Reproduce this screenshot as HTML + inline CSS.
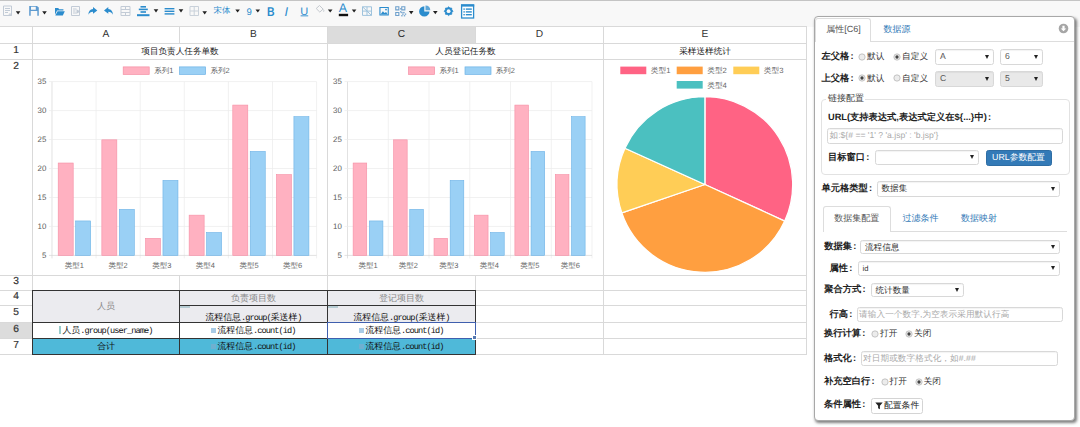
<!DOCTYPE html>
<html><head><meta charset="utf-8"><title>report designer</title>
<style>
html,body{margin:0;padding:0;}
body{width:1080px;height:427px;overflow:hidden;background:#fff;position:relative;font-family:"Liberation Sans",sans-serif;text-rendering:geometricPrecision;}
svg text{text-rendering:geometricPrecision;}
</style></head><body>
<div style="position:absolute;left:0px;top:0px;width:1080px;height:27px;background:#f8f8f8;"></div>
<div style="position:absolute;left:0px;top:0px;width:1080px;height:1px;background:#c4c4c4;"></div>
<div style="position:absolute;left:0px;top:26px;width:807px;height:329px;background:#fff;"></div>
<div style="position:absolute;left:328px;top:27px;width:147px;height:16px;background:#dcdcdc;"></div>
<div style="position:absolute;left:0px;top:323px;width:32px;height:15px;background:#dcdcdc;"></div>
<div style="position:absolute;left:33px;top:291px;width:442px;height:31px;background:#ebebef;"></div>
<div style="position:absolute;left:33px;top:339px;width:442px;height:15px;background:#4fb9d9;"></div>
<div style="position:absolute;left:0px;top:26px;width:807px;height:1px;background:#d9d9d9;"></div>
<div style="position:absolute;left:0px;top:43px;width:807px;height:1px;background:#d9d9d9;"></div>
<div style="position:absolute;left:0px;top:59px;width:807px;height:1px;background:#d9d9d9;"></div>
<div style="position:absolute;left:0px;top:275px;width:807px;height:1px;background:#d9d9d9;"></div>
<div style="position:absolute;left:0px;top:290px;width:807px;height:1px;background:#d9d9d9;"></div>
<div style="position:absolute;left:0px;top:305px;width:807px;height:1px;background:#d9d9d9;"></div>
<div style="position:absolute;left:0px;top:322px;width:807px;height:1px;background:#d9d9d9;"></div>
<div style="position:absolute;left:0px;top:338px;width:807px;height:1px;background:#d9d9d9;"></div>
<div style="position:absolute;left:0px;top:354px;width:807px;height:1px;background:#d9d9d9;"></div>
<div style="position:absolute;left:32px;top:26px;width:1px;height:329px;background:#d9d9d9;"></div>
<div style="position:absolute;left:806px;top:26px;width:1px;height:329px;background:#d9d9d9;"></div>
<div style="position:absolute;left:327px;top:26px;width:1px;height:329px;background:#d9d9d9;"></div>
<div style="position:absolute;left:603px;top:26px;width:1px;height:329px;background:#d9d9d9;"></div>
<div style="position:absolute;left:179px;top:26px;width:1px;height:17px;background:#d9d9d9;"></div>
<div style="position:absolute;left:179px;top:275px;width:1px;height:80px;background:#d9d9d9;"></div>
<div style="position:absolute;left:475px;top:26px;width:1px;height:17px;background:#d9d9d9;"></div>
<div style="position:absolute;left:475px;top:275px;width:1px;height:80px;background:#d9d9d9;"></div>
<div style="position:absolute;left:33px;top:305px;width:146px;height:1px;background:#ebebef;"></div>
<div style="position:absolute;left:32px;top:290px;width:444px;height:1px;background:#333;"></div>
<div style="position:absolute;left:32px;top:322px;width:444px;height:1px;background:#333;"></div>
<div style="position:absolute;left:32px;top:338px;width:444px;height:1px;background:#333;"></div>
<div style="position:absolute;left:32px;top:354px;width:444px;height:1px;background:#333;"></div>
<div style="position:absolute;left:179px;top:305px;width:297px;height:1px;background:#333;"></div>
<div style="position:absolute;left:32px;top:290px;width:1px;height:65px;background:#333;"></div>
<div style="position:absolute;left:179px;top:290px;width:1px;height:65px;background:#333;"></div>
<div style="position:absolute;left:327px;top:290px;width:1px;height:65px;background:#333;"></div>
<div style="position:absolute;left:475px;top:290px;width:1px;height:65px;background:#333;"></div>
<div style="position:absolute;left:327px;top:322px;width:148px;height:16px;border:1px solid #3f5fae;box-sizing:border-box;width:149px;height:17px;"></div>
<div style="position:absolute;left:472px;top:335px;width:5px;height:5px;background:#5579b0;border:1px solid #fff;box-sizing:border-box;"></div>
<div style="position:absolute;left:33px;top:27.3px;width:146px;height:16px;line-height:16px;font-size:10.2px;color:#333;text-align:center;font-weight:normal;font-family:'Liberation Sans', sans-serif;white-space:nowrap;">A</div>
<div style="position:absolute;left:180px;top:27.3px;width:147px;height:16px;line-height:16px;font-size:10.2px;color:#333;text-align:center;font-weight:normal;font-family:'Liberation Sans', sans-serif;white-space:nowrap;">B</div>
<div style="position:absolute;left:328px;top:27.3px;width:147px;height:16px;line-height:16px;font-size:10.2px;color:#333;text-align:center;font-weight:normal;font-family:'Liberation Sans', sans-serif;white-space:nowrap;">C</div>
<div style="position:absolute;left:476px;top:27.3px;width:127px;height:16px;line-height:16px;font-size:10.2px;color:#333;text-align:center;font-weight:normal;font-family:'Liberation Sans', sans-serif;white-space:nowrap;">D</div>
<div style="position:absolute;left:604px;top:27.3px;width:202px;height:16px;line-height:16px;font-size:10.2px;color:#333;text-align:center;font-weight:normal;font-family:'Liberation Sans', sans-serif;white-space:nowrap;">E</div>
<div style="position:absolute;left:0px;top:43.45px;width:32px;height:15px;line-height:15px;font-size:10.2px;color:#333;text-align:center;font-weight:normal;font-family:'Liberation Sans', sans-serif;white-space:nowrap;-webkit-text-stroke:0.2px #333;">1</div>
<div style="position:absolute;left:0px;top:59.45px;width:32px;height:15px;line-height:15px;font-size:10.2px;color:#333;text-align:center;font-weight:normal;font-family:'Liberation Sans', sans-serif;white-space:nowrap;-webkit-text-stroke:0.2px #333;">2</div>
<div style="position:absolute;left:0px;top:275.45px;width:32px;height:14px;line-height:14px;font-size:10.2px;color:#333;text-align:center;font-weight:normal;font-family:'Liberation Sans', sans-serif;white-space:nowrap;-webkit-text-stroke:0.2px #333;">3</div>
<div style="position:absolute;left:0px;top:290.45px;width:32px;height:14px;line-height:14px;font-size:10.2px;color:#333;text-align:center;font-weight:normal;font-family:'Liberation Sans', sans-serif;white-space:nowrap;-webkit-text-stroke:0.2px #333;">4</div>
<div style="position:absolute;left:0px;top:305.45px;width:32px;height:16px;line-height:16px;font-size:10.2px;color:#333;text-align:center;font-weight:normal;font-family:'Liberation Sans', sans-serif;white-space:nowrap;-webkit-text-stroke:0.2px #333;">5</div>
<div style="position:absolute;left:0px;top:322.45px;width:32px;height:15px;line-height:15px;font-size:10.2px;color:#333;text-align:center;font-weight:normal;font-family:'Liberation Sans', sans-serif;white-space:nowrap;-webkit-text-stroke:0.2px #333;">6</div>
<div style="position:absolute;left:0px;top:338.45px;width:32px;height:15px;line-height:15px;font-size:10.2px;color:#333;text-align:center;font-weight:normal;font-family:'Liberation Sans', sans-serif;white-space:nowrap;-webkit-text-stroke:0.2px #333;">7</div>
<div style="position:absolute;left:33px;top:44px;width:294px;height:15px;line-height:15px;font-size:8.6px;color:#222;text-align:center;font-weight:normal;font-family:'Liberation Sans', sans-serif;white-space:nowrap;">项目负责人任务单数</div>
<div style="position:absolute;left:328px;top:44px;width:275px;height:15px;line-height:15px;font-size:8.65px;color:#222;text-align:center;font-weight:normal;font-family:'Liberation Sans', sans-serif;white-space:nowrap;">人员登记任务数</div>
<div style="position:absolute;left:604px;top:44px;width:202px;height:15px;line-height:15px;font-size:8.65px;color:#222;text-align:center;font-weight:normal;font-family:'Liberation Sans', sans-serif;white-space:nowrap;">采样送样统计</div>
<div style="position:absolute;left:33px;top:291px;width:146px;height:31px;line-height:31px;font-size:9px;color:#888;text-align:center;font-weight:normal;font-family:'Liberation Sans', sans-serif;white-space:nowrap;">人员</div>
<div style="position:absolute;left:180px;top:291px;width:147px;height:14px;line-height:14px;font-size:9px;color:#888;text-align:center;font-weight:normal;font-family:'Liberation Sans', sans-serif;white-space:nowrap;">负责项目数</div>
<div style="position:absolute;left:328px;top:291px;width:147px;height:14px;line-height:14px;font-size:9px;color:#888;text-align:center;font-weight:normal;font-family:'Liberation Sans', sans-serif;white-space:nowrap;">登记项目数</div>
<div style="position:absolute;left:180px;top:308.5px;width:147px;height:16.0px;line-height:16.0px;font-size:8.9px;color:#111;text-align:center;font-weight:normal;font-family:'Liberation Sans', sans-serif;white-space:nowrap;">流程信息<span style="font-family:'Liberation Mono', monospace;letter-spacing:-0.9px;font-size:8.6px">.group(</span>采送样<span style="font-family:'Liberation Mono', monospace;letter-spacing:-0.9px;font-size:8.6px">)</span></div>
<div style="position:absolute;left:328px;top:308.5px;width:147px;height:16.0px;line-height:16.0px;font-size:8.9px;color:#111;text-align:center;font-weight:normal;font-family:'Liberation Sans', sans-serif;white-space:nowrap;">流程信息<span style="font-family:'Liberation Mono', monospace;letter-spacing:-0.9px;font-size:8.6px">.group(</span>采送样<span style="font-family:'Liberation Mono', monospace;letter-spacing:-0.9px;font-size:8.6px">)</span></div>
<div style="position:absolute;left:33px;top:323px;width:146px;height:15px;line-height:15px;font-size:8.9px;color:#111;text-align:center;font-weight:normal;font-family:'Liberation Sans', sans-serif;white-space:nowrap;"><span style="display:inline-block;width:2px;height:8px;background:#9cc;vertical-align:-1px;margin-right:1px"></span>人员<span style="font-family:'Liberation Mono', monospace;letter-spacing:-0.9px;font-size:8.6px">.group(user_name)</span></div>
<div style="position:absolute;left:180px;top:323px;width:147px;height:15px;line-height:15px;font-size:8.9px;color:#111;text-align:center;font-weight:normal;font-family:'Liberation Sans', sans-serif;white-space:nowrap;"><span style="display:inline-block;width:5px;height:5px;background:#a9cbe6;vertical-align:0px;margin-right:1px"></span>流程信息<span style="font-family:'Liberation Mono', monospace;letter-spacing:-0.9px;font-size:8.6px">.count(id)</span></div>
<div style="position:absolute;left:328px;top:323px;width:147px;height:15px;line-height:15px;font-size:8.9px;color:#111;text-align:center;font-weight:normal;font-family:'Liberation Sans', sans-serif;white-space:nowrap;"><span style="display:inline-block;width:5px;height:5px;background:#a9cbe6;vertical-align:0px;margin-right:1px"></span>流程信息<span style="font-family:'Liberation Mono', monospace;letter-spacing:-0.9px;font-size:8.6px">.count(id)</span></div>
<div style="position:absolute;left:33px;top:339px;width:146px;height:15px;line-height:15px;font-size:8.9px;color:#111;text-align:center;font-weight:normal;font-family:'Liberation Sans', sans-serif;white-space:nowrap;">合计</div>
<div style="position:absolute;left:180px;top:339px;width:147px;height:15px;line-height:15px;font-size:8.9px;color:#111;text-align:center;font-weight:normal;font-family:'Liberation Sans', sans-serif;white-space:nowrap;"><span style="display:inline-block;width:5px;height:5px;background:#6fb0d0;vertical-align:0px;margin-right:1px"></span>流程信息<span style="font-family:'Liberation Mono', monospace;letter-spacing:-0.9px;font-size:8.6px">.count(id)</span></div>
<div style="position:absolute;left:328px;top:339px;width:147px;height:15px;line-height:15px;font-size:8.9px;color:#111;text-align:center;font-weight:normal;font-family:'Liberation Sans', sans-serif;white-space:nowrap;"><span style="display:inline-block;width:5px;height:5px;background:#6fb0d0;vertical-align:0px;margin-right:1px"></span>流程信息<span style="font-family:'Liberation Mono', monospace;letter-spacing:-0.9px;font-size:8.6px">.count(id)</span></div>
<div style="position:absolute;left:180px;top:306px;width:10px;height:2px;background:#a9c4cc;opacity:.8;"></div>
<div style="position:absolute;left:328px;top:306px;width:10px;height:2px;background:#a9c4cc;opacity:.8;"></div>
<svg style="position:absolute;left:0;top:0" width="1080" height="427" viewBox="0 0 1080 427" font-family="'Liberation Sans', sans-serif"><line x1="52.00" y1="81.6" x2="52.00" y2="258.4" stroke="#d6d6d6" stroke-width="0.7"/><line x1="96.10" y1="81.6" x2="96.10" y2="258.4" stroke="#ebebeb" stroke-width="0.7"/><line x1="140.20" y1="81.6" x2="140.20" y2="258.4" stroke="#ebebeb" stroke-width="0.7"/><line x1="184.30" y1="81.6" x2="184.30" y2="258.4" stroke="#ebebeb" stroke-width="0.7"/><line x1="228.40" y1="81.6" x2="228.40" y2="258.4" stroke="#ebebeb" stroke-width="0.7"/><line x1="272.50" y1="81.6" x2="272.50" y2="258.4" stroke="#ebebeb" stroke-width="0.7"/><line x1="316.60" y1="81.6" x2="316.60" y2="258.4" stroke="#ebebeb" stroke-width="0.7"/><line x1="49.0" y1="255.40" x2="316.6" y2="255.40" stroke="#d6d6d6" stroke-width="0.7"/><text x="46.40" y="257.70" text-anchor="end" font-size="7.9" fill="#5c5c5c">5</text><line x1="49.0" y1="226.43" x2="316.6" y2="226.43" stroke="#ebebeb" stroke-width="0.7"/><text x="46.40" y="228.73" text-anchor="end" font-size="7.9" fill="#5c5c5c">10</text><line x1="49.0" y1="197.47" x2="316.6" y2="197.47" stroke="#ebebeb" stroke-width="0.7"/><text x="46.40" y="199.77" text-anchor="end" font-size="7.9" fill="#5c5c5c">15</text><line x1="49.0" y1="168.50" x2="316.6" y2="168.50" stroke="#ebebeb" stroke-width="0.7"/><text x="46.40" y="170.80" text-anchor="end" font-size="7.9" fill="#5c5c5c">20</text><line x1="49.0" y1="139.53" x2="316.6" y2="139.53" stroke="#ebebeb" stroke-width="0.7"/><text x="46.40" y="141.83" text-anchor="end" font-size="7.9" fill="#5c5c5c">25</text><line x1="49.0" y1="110.57" x2="316.6" y2="110.57" stroke="#ebebeb" stroke-width="0.7"/><text x="46.40" y="112.87" text-anchor="end" font-size="7.9" fill="#5c5c5c">30</text><line x1="49.0" y1="81.60" x2="316.6" y2="81.60" stroke="#ebebeb" stroke-width="0.7"/><text x="46.40" y="83.90" text-anchor="end" font-size="7.9" fill="#5c5c5c">35</text><rect x="58.20" y="163.01" width="15.00" height="92.39" fill="#ffb1c1" stroke="#f58ea4" stroke-width="0.6"/><rect x="75.66" y="220.94" width="15.00" height="34.46" fill="#9ad0f5" stroke="#6db2e6" stroke-width="0.6"/><text x="74.42" y="268.10" text-anchor="middle" font-size="7.5" fill="#666">类型1</text><rect x="101.84" y="139.83" width="15.00" height="115.57" fill="#ffb1c1" stroke="#f58ea4" stroke-width="0.6"/><rect x="119.30" y="209.35" width="15.00" height="46.05" fill="#9ad0f5" stroke="#6db2e6" stroke-width="0.6"/><text x="118.07" y="268.10" text-anchor="middle" font-size="7.5" fill="#666">类型2</text><rect x="145.50" y="238.32" width="15.00" height="17.08" fill="#ffb1c1" stroke="#f58ea4" stroke-width="0.6"/><rect x="162.96" y="180.39" width="15.00" height="75.01" fill="#9ad0f5" stroke="#6db2e6" stroke-width="0.6"/><text x="161.72" y="268.10" text-anchor="middle" font-size="7.5" fill="#666">类型3</text><rect x="189.14" y="215.15" width="15.00" height="40.25" fill="#ffb1c1" stroke="#f58ea4" stroke-width="0.6"/><rect x="206.60" y="232.53" width="15.00" height="22.87" fill="#9ad0f5" stroke="#6db2e6" stroke-width="0.6"/><text x="205.38" y="268.10" text-anchor="middle" font-size="7.5" fill="#666">类型4</text><rect x="232.79" y="105.07" width="15.00" height="150.33" fill="#ffb1c1" stroke="#f58ea4" stroke-width="0.6"/><rect x="250.25" y="151.42" width="15.00" height="103.98" fill="#9ad0f5" stroke="#6db2e6" stroke-width="0.6"/><text x="249.02" y="268.10" text-anchor="middle" font-size="7.5" fill="#666">类型5</text><rect x="276.45" y="174.59" width="15.00" height="80.81" fill="#ffb1c1" stroke="#f58ea4" stroke-width="0.6"/><rect x="293.91" y="116.66" width="15.00" height="138.74" fill="#9ad0f5" stroke="#6db2e6" stroke-width="0.6"/><text x="292.68" y="268.10" text-anchor="middle" font-size="7.5" fill="#666">类型6</text><rect x="123.2" y="66.9" width="26" height="7.5" fill="#ffb1c1" stroke="#f58ea4" stroke-width="0.7"/><text x="154.2" y="73" font-size="7.5" fill="#666">系列1</text><rect x="179.6" y="66.9" width="26" height="7.5" fill="#9ad0f5" stroke="#6db2e6" stroke-width="0.7"/><text x="210.4" y="73" font-size="7.5" fill="#666">系列2</text><line x1="347.50" y1="81.6" x2="347.50" y2="258.4" stroke="#d6d6d6" stroke-width="0.7"/><line x1="388.25" y1="81.6" x2="388.25" y2="258.4" stroke="#ebebeb" stroke-width="0.7"/><line x1="429.00" y1="81.6" x2="429.00" y2="258.4" stroke="#ebebeb" stroke-width="0.7"/><line x1="469.75" y1="81.6" x2="469.75" y2="258.4" stroke="#ebebeb" stroke-width="0.7"/><line x1="510.50" y1="81.6" x2="510.50" y2="258.4" stroke="#ebebeb" stroke-width="0.7"/><line x1="551.25" y1="81.6" x2="551.25" y2="258.4" stroke="#ebebeb" stroke-width="0.7"/><line x1="592.00" y1="81.6" x2="592.00" y2="258.4" stroke="#ebebeb" stroke-width="0.7"/><line x1="344.5" y1="255.40" x2="592.0" y2="255.40" stroke="#d6d6d6" stroke-width="0.7"/><text x="341.90" y="257.70" text-anchor="end" font-size="7.9" fill="#5c5c5c">5</text><line x1="344.5" y1="226.43" x2="592.0" y2="226.43" stroke="#ebebeb" stroke-width="0.7"/><text x="341.90" y="228.73" text-anchor="end" font-size="7.9" fill="#5c5c5c">10</text><line x1="344.5" y1="197.47" x2="592.0" y2="197.47" stroke="#ebebeb" stroke-width="0.7"/><text x="341.90" y="199.77" text-anchor="end" font-size="7.9" fill="#5c5c5c">15</text><line x1="344.5" y1="168.50" x2="592.0" y2="168.50" stroke="#ebebeb" stroke-width="0.7"/><text x="341.90" y="170.80" text-anchor="end" font-size="7.9" fill="#5c5c5c">20</text><line x1="344.5" y1="139.53" x2="592.0" y2="139.53" stroke="#ebebeb" stroke-width="0.7"/><text x="341.90" y="141.83" text-anchor="end" font-size="7.9" fill="#5c5c5c">25</text><line x1="344.5" y1="110.57" x2="592.0" y2="110.57" stroke="#ebebeb" stroke-width="0.7"/><text x="341.90" y="112.87" text-anchor="end" font-size="7.9" fill="#5c5c5c">30</text><line x1="344.5" y1="81.60" x2="592.0" y2="81.60" stroke="#ebebeb" stroke-width="0.7"/><text x="341.90" y="83.90" text-anchor="end" font-size="7.9" fill="#5c5c5c">35</text><rect x="353.13" y="163.01" width="13.60" height="92.39" fill="#ffb1c1" stroke="#f58ea4" stroke-width="0.6"/><rect x="369.31" y="220.94" width="13.60" height="34.46" fill="#9ad0f5" stroke="#6db2e6" stroke-width="0.6"/><text x="368.02" y="268.10" text-anchor="middle" font-size="7.5" fill="#666">类型1</text><rect x="393.57" y="139.83" width="13.60" height="115.57" fill="#ffb1c1" stroke="#f58ea4" stroke-width="0.6"/><rect x="409.75" y="209.35" width="13.60" height="46.05" fill="#9ad0f5" stroke="#6db2e6" stroke-width="0.6"/><text x="408.46" y="268.10" text-anchor="middle" font-size="7.5" fill="#666">类型2</text><rect x="434.01" y="238.32" width="13.60" height="17.08" fill="#ffb1c1" stroke="#f58ea4" stroke-width="0.6"/><rect x="450.19" y="180.39" width="13.60" height="75.01" fill="#9ad0f5" stroke="#6db2e6" stroke-width="0.6"/><text x="448.90" y="268.10" text-anchor="middle" font-size="7.5" fill="#666">类型3</text><rect x="474.45" y="215.15" width="13.60" height="40.25" fill="#ffb1c1" stroke="#f58ea4" stroke-width="0.6"/><rect x="490.63" y="232.53" width="13.60" height="22.87" fill="#9ad0f5" stroke="#6db2e6" stroke-width="0.6"/><text x="489.34" y="268.10" text-anchor="middle" font-size="7.5" fill="#666">类型4</text><rect x="514.89" y="105.07" width="13.60" height="150.33" fill="#ffb1c1" stroke="#f58ea4" stroke-width="0.6"/><rect x="531.07" y="151.42" width="13.60" height="103.98" fill="#9ad0f5" stroke="#6db2e6" stroke-width="0.6"/><text x="529.78" y="268.10" text-anchor="middle" font-size="7.5" fill="#666">类型5</text><rect x="555.33" y="174.59" width="13.60" height="80.81" fill="#ffb1c1" stroke="#f58ea4" stroke-width="0.6"/><rect x="571.51" y="116.66" width="13.60" height="138.74" fill="#9ad0f5" stroke="#6db2e6" stroke-width="0.6"/><text x="570.22" y="268.10" text-anchor="middle" font-size="7.5" fill="#666">类型6</text><rect x="408.6" y="66.9" width="26" height="7.5" fill="#ffb1c1" stroke="#f58ea4" stroke-width="0.7"/><text x="439.6" y="73" font-size="7.5" fill="#666">系列1</text><rect x="465.0" y="66.9" width="26" height="7.5" fill="#9ad0f5" stroke="#6db2e6" stroke-width="0.7"/><text x="495.8" y="73" font-size="7.5" fill="#666">系列2</text><path d="M704.9,184.5 L704.90,96.70 A87.8,87.8 0 0 1 784.73,221.05 Z" fill="#ff6384" stroke="#fff" stroke-width="1.3" stroke-linejoin="round"/><path d="M704.9,184.5 L784.73,221.05 A87.8,87.8 0 0 1 621.83,212.94 Z" fill="#ff9f40" stroke="#fff" stroke-width="1.3" stroke-linejoin="round"/><path d="M704.9,184.5 L621.83,212.94 A87.8,87.8 0 0 1 624.94,148.23 Z" fill="#ffcd56" stroke="#fff" stroke-width="1.3" stroke-linejoin="round"/><path d="M704.9,184.5 L624.94,148.23 A87.8,87.8 0 0 1 704.90,96.70 Z" fill="#4bc0c0" stroke="#fff" stroke-width="1.3" stroke-linejoin="round"/><rect x="620.3" y="66.6" width="26" height="7.6" fill="#ff6384"/><text x="650.8" y="73.39999999999999" font-size="7.7" fill="#666">类型1</text><rect x="676.7" y="66.6" width="26" height="7.6" fill="#ff9f40"/><text x="707.2" y="73.39999999999999" font-size="7.7" fill="#666">类型2</text><rect x="733.3" y="66.6" width="26" height="7.6" fill="#ffcd56"/><text x="763.8" y="73.39999999999999" font-size="7.7" fill="#666">类型3</text><rect x="676.7" y="81.0" width="26" height="7.6" fill="#4bc0c0"/><text x="707.2" y="87.8" font-size="7.7" fill="#666">类型4</text></svg>
<svg style="position:absolute;left:0;top:0" width="1080" height="27" viewBox="0 0 1080 27" font-family="'Liberation Sans', sans-serif"><g fill="none" stroke="#c2cbd6" stroke-width="1"><path d="M3.5 6h8v9.5h-8z"/><path d="M5 8.5h5M5 10.5h5M5 12.5h3"/><path d="M8.5 15.5l1.5-2 1.5 2"/></g><path d="M15.8 11.2h4.6l-2.3 3.2z" fill="#222"/><g fill="#4d90cb" opacity=".9"><path d="M29.2 6h7.8l1.8 1.6v8.2h-1.5V11h-6.6v4.8h-1.5z M31 6.8v3h4.8v-3z" fill-rule="evenodd"/></g><path d="M42.2 11.2h4.6l-2.3 3.2z" fill="#222"/><path d="M55 8h3.2l1 1.2h4.2v1.4h-6.3l-2.1 4.2z M57.6 11.2h7.2l-2 4.4h-7.5z" fill="#2b8ccd"/><g fill="none" stroke="#c2cbd6" stroke-width="1"><path d="M71.5 6.5h8v9h-8z"/><path d="M73 9h3.5M73 11h2.5M73 13h3.5"/></g><path d="M76.5 9.3l4 2.2-4 2.2z" fill="#c2cbd6"/><path d="M93 7l4.3 3.4L93 13.8v-2.1c-2.3 0-3.7.9-4.6 3.1 0-3.3 1.6-5.4 4.6-5.7z" fill="#2b8ccd"/><path d="M108.3 7L104 10.4l4.3 3.4v-2.1c2.3 0 3.7.9 4.6 3.1 0-3.3-1.6-5.4-4.6-5.7z" fill="#2b8ccd"/><g fill="none" stroke="#c2cbd6" stroke-width="1"><path d="M121 6.5h9v9h-9z"/><path d="M121 9.5h9M121 12.5h9M125.5 6.5v3M125.5 12.5v3"/></g><g fill="#2b8ccd"><rect x="140.5" y="6" width="5.5" height="1.6"/><rect x="138.8" y="8.6" width="9" height="1.6"/><rect x="140.5" y="11.2" width="5.5" height="1.6"/><rect x="137" y="14.2" width="12.5" height="2"/></g><path d="M153.7 9.2h4.6l-2.3 3.2z" fill="#222"/><g fill="#2b8ccd"><rect x="164.6" y="8" width="9.8" height="1.4"/><rect x="164.6" y="10.6" width="9.8" height="1.4"/><rect x="164.6" y="13.2" width="9.8" height="1.4"/></g><path d="M178.7 9.2h4.6l-2.3 3.2z" fill="#222"/><g fill="none" stroke="#c9d1da" stroke-width="1"><path d="M190 6.5h8.5v9H190z"/><path d="M194.2 6.5v9M190 11h8.5"/></g><path d="M202.4 11.2h4.6l-2.3 3.2z" fill="#222"/><text x="213.6" y="12.9" font-size="8.4" fill="#2b8ccd">宋体</text><path d="M235.3 9.4h4.6l-2.3 3.2z" fill="#222"/><text x="246.4" y="15" font-size="9.6" fill="#2b8ccd">9</text><path d="M255.5 9.4h4.6l-2.3 3.2z" fill="#222"/><text transform="translate(266.9,15.6) scale(0.82,1)" font-size="12.8" font-weight="bold" fill="#2b8ccd">B</text><text x="284.5" y="15.6" font-size="12.8" font-style="italic" fill="#2b8ccd">I</text><text x="300.2" y="14.6" font-size="11" fill="#2b8ccd">U</text><rect x="300.6" y="15.4" width="7.6" height="0.9" fill="#2b8ccd"/><g fill="none" stroke="#c4c9cf" stroke-width="1"><path d="M316.2 8.5l3.3-3 3.6 3.6-3.3 3z"/><path d="M323.3 9.5c.8 1 .8 1.8 0 2.3"/></g><path d="M327.9 9.4h4.6l-2.3 3.2z" fill="#222"/><text x="338.8" y="12" font-size="12.4" fill="#2b8ccd">A</text><rect x="338.8" y="13.8" width="9.3" height="2.4" fill="#111"/><path d="M351.8 9.4h4.6l-2.3 3.2z" fill="#222"/><g fill="none" stroke="#9fc3dd" stroke-width="1"><path d="M362.5 6.8h9v8.6h-9z"/><path d="M362.5 6.8l9 8.6M367 6.8v8.6M362.5 11.1h9"/></g><path d="M379.4 6.9h9.4v8.7h-9.4z M380.5 8v6.5h7.2V8z" fill="#2b8ccd" fill-rule="evenodd"/><path d="M380.5 14.5l2.4-3.2 1.6 1.8 1.6-1.2 1.6 2.6z" fill="#2b8ccd"/><circle cx="386" cy="9.6" r="0.9" fill="#2b8ccd"/><g fill="#6ea0cc"><path d="M395.2 6.2h4.2v4.2h-4.2z M396.3 7.300000000000001v2h2v-2z" fill-rule="evenodd"/><path d="M401.2 6.2h4.2v4.2h-4.2z M402.3 7.300000000000001v2h2v-2z" fill-rule="evenodd"/><path d="M395.2 11.9h4.2v4.2h-4.2z M396.3 13.0v2h2v-2z" fill-rule="evenodd"/><rect x="401.2" y="11.9" width="1.4" height="1.3"/><rect x="403.2" y="11.9" width="1.4" height="1.3"/><rect x="402.2" y="13.5" width="1.4" height="1.3"/><rect x="401.2" y="15.1" width="1.4" height="1.3"/><rect x="403.8" y="15.1" width="1.4" height="1.3"/><rect x="404.8" y="13.5" width="1.4" height="1.3"/><rect x="400.0" y="11.2" width="1.4" height="1.3"/><rect x="400.0" y="8.2" width="1.4" height="1.3"/></g><path d="M408.9 11h4.6l-2.3 3.2z" fill="#222"/><path d="M424.3 6.2a5.2 5.2 0 1 0 5.2 5.2h-5.2z" fill="#2b8ccd"/><path d="M425.5 5.4a5 5 0 0 1 4.8 4.8h-4.8z" fill="#2b8ccd" opacity=".75"/><path d="M433 11h4.6l-2.3 3.2z" fill="#222"/><polygon points="453.00,11.20 451.83,12.54 451.71,14.31 449.94,14.43 448.60,15.60 447.26,14.43 445.49,14.31 445.37,12.54 444.20,11.20 445.37,9.86 445.49,8.09 447.26,7.97 448.60,6.80 449.94,7.97 451.71,8.09 451.83,9.86" fill="#2b8ccd" stroke="#2b8ccd" stroke-width="0.8" stroke-linejoin="round"/><circle cx="448.6" cy="11.2" r="1.9" fill="#f8f8f8"/><rect x="461.6" y="5" width="12" height="13" fill="#fff" stroke="#2b8ccd" stroke-width="1.3"/><rect x="461" y="4.4" width="13.2" height="2.2" fill="#2b8ccd"/><g fill="#2b8ccd"><rect x="463.4" y="8.4" width="1.4" height="1.4"/><rect x="465.8" y="8.4" width="6" height="1.4"/><rect x="463.4" y="11.2" width="1.4" height="1.4"/><rect x="465.8" y="11.2" width="6" height="1.4"/><rect x="463.4" y="14" width="1.4" height="1.4"/><rect x="465.8" y="14" width="6" height="1.4"/></g></svg>
<div style="position:absolute;left:814px;top:16.2px;width:261.3px;height:404.5px;box-sizing:border-box;background:#fff;border:1px solid #a8a8a8;border-radius:4px;box-shadow:1.5px 2px 3px rgba(0,0,0,.5);"></div>
<div style="position:absolute;left:815.5px;top:41px;width:258.5px;height:1px;box-sizing:border-box;background:#ddd;"></div>
<div style="position:absolute;left:815px;top:17.5px;width:55.5px;height:24.5px;box-sizing:border-box;background:#fff;border:1px solid #ddd;border-bottom:none;border-radius:3px 3px 0 0;"></div>
<div style="position:absolute;left:815.8px;top:16.7px;width:55.5px;text-align:center;height:24px;line-height:24px;font-size:9px;color:#555;font-weight:normal;white-space:nowrap;">属性[C6]</div>
<div style="position:absolute;left:876.4px;top:16.7px;width:41px;text-align:center;height:24px;line-height:24px;font-size:9px;color:#337ab7;font-weight:normal;white-space:nowrap;">数据源</div>
<svg style="position:absolute;left:1058px;top:23px" width="11" height="11" viewBox="0 0 11 11"><circle cx="5.5" cy="5.5" r="4.8" fill="#a6a6a6"/><path d="M4.4 2.8h2.2v2.6h1.7L5.5 8.3 2.7 5.4h1.7z" fill="#fff"/></svg>
<div style="position:absolute;left:821.5px;top:49px;height:15px;line-height:15px;font-size:9.25px;color:#222;font-weight:bold;white-space:nowrap;">左父格<span style="margin-left:1.3px">:</span></div>
<svg style="position:absolute;left:858.4px;top:52.6px" width="8" height="8" viewBox="0 0 8 8"><circle cx="4" cy="4" r="3.15" fill="#ececec" stroke="#b0b0b0" stroke-width="0.7"/></svg>
<div style="position:absolute;left:867px;top:49px;height:15px;line-height:15px;font-size:8.7px;color:#333;font-weight:normal;white-space:nowrap;">默认</div>
<svg style="position:absolute;left:892.5px;top:52.6px" width="8" height="8" viewBox="0 0 8 8"><circle cx="4" cy="4" r="3.15" fill="#ececec" stroke="#b0b0b0" stroke-width="0.7"/><circle cx="4" cy="4" r="1.65" fill="#444"/></svg>
<div style="position:absolute;left:902px;top:49px;height:15px;line-height:15px;font-size:8.7px;color:#333;font-weight:normal;white-space:nowrap;">自定义</div>
<div style="position:absolute;left:935px;top:49px;width:58.5px;height:15.5px;box-sizing:border-box;background:#fff;border:1px solid #d8d8d8;border-radius:2.5px;box-shadow:inset 0 1px 1px rgba(0,0,0,.05);"></div>
<div style="position:absolute;left:940px;top:49px;height:15.5px;line-height:15.5px;font-size:8.6px;color:#555;font-weight:normal;white-space:nowrap;">A</div>
<div style="position:absolute;left:984.5px;top:54.95px;width:0;height:0;border-left:2.4px solid transparent;border-right:2.4px solid transparent;border-top:4px solid #222"></div>
<div style="position:absolute;left:1000px;top:49px;width:43.3px;height:15.5px;box-sizing:border-box;background:#fff;border:1px solid #d8d8d8;border-radius:2.5px;box-shadow:inset 0 1px 1px rgba(0,0,0,.05);"></div>
<div style="position:absolute;left:1005px;top:49px;height:15.5px;line-height:15.5px;font-size:8.6px;color:#555;font-weight:normal;white-space:nowrap;">6</div>
<div style="position:absolute;left:1034.3px;top:54.95px;width:0;height:0;border-left:2.4px solid transparent;border-right:2.4px solid transparent;border-top:4px solid #222"></div>
<div style="position:absolute;left:821.5px;top:70.5px;height:15px;line-height:15px;font-size:9.25px;color:#222;font-weight:bold;white-space:nowrap;">上父格<span style="margin-left:1.3px">:</span></div>
<svg style="position:absolute;left:858.4px;top:74px" width="8" height="8" viewBox="0 0 8 8"><circle cx="4" cy="4" r="3.15" fill="#ececec" stroke="#b0b0b0" stroke-width="0.7"/><circle cx="4" cy="4" r="1.65" fill="#444"/></svg>
<div style="position:absolute;left:867px;top:70.5px;height:15px;line-height:15px;font-size:8.7px;color:#333;font-weight:normal;white-space:nowrap;">默认</div>
<svg style="position:absolute;left:892.5px;top:74px" width="8" height="8" viewBox="0 0 8 8"><circle cx="4" cy="4" r="3.15" fill="#ececec" stroke="#b0b0b0" stroke-width="0.7"/></svg>
<div style="position:absolute;left:902px;top:70.5px;height:15px;line-height:15px;font-size:8.7px;color:#333;font-weight:normal;white-space:nowrap;">自定义</div>
<div style="position:absolute;left:935px;top:71px;width:58.5px;height:15.5px;box-sizing:border-box;background:#e9e9e9;border:1px solid #d8d8d8;border-radius:2.5px;box-shadow:inset 0 1px 1px rgba(0,0,0,.05);"></div>
<div style="position:absolute;left:940px;top:71px;height:15.5px;line-height:15.5px;font-size:8.6px;color:#555;font-weight:normal;white-space:nowrap;">C</div>
<div style="position:absolute;left:984.5px;top:76.95px;width:0;height:0;border-left:2.4px solid transparent;border-right:2.4px solid transparent;border-top:4px solid #222"></div>
<div style="position:absolute;left:1000px;top:71px;width:43.3px;height:15.5px;box-sizing:border-box;background:#e9e9e9;border:1px solid #d8d8d8;border-radius:2.5px;box-shadow:inset 0 1px 1px rgba(0,0,0,.05);"></div>
<div style="position:absolute;left:1005px;top:71px;height:15.5px;line-height:15.5px;font-size:8.6px;color:#555;font-weight:normal;white-space:nowrap;">5</div>
<div style="position:absolute;left:1034.3px;top:76.95px;width:0;height:0;border-left:2.4px solid transparent;border-right:2.4px solid transparent;border-top:4px solid #222"></div>
<div style="position:absolute;left:820.5px;top:98.5px;width:249px;height:76px;box-sizing:border-box;border:1px solid #e2e2e2;border-radius:4px;"></div>
<div style="position:absolute;left:826px;top:92px;width:39px;height:12px;box-sizing:border-box;background:#fff;"></div>
<div style="position:absolute;left:828px;top:91px;height:14px;line-height:14px;font-size:9px;color:#444;font-weight:normal;white-space:nowrap;">链接配置</div>
<div style="position:absolute;left:828px;top:110px;height:15px;line-height:15px;font-size:9.25px;color:#222;font-weight:bold;white-space:nowrap;">URL(支持表达式,表达式定义在${...}中)<span style="margin-left:1.3px">:</span></div>
<div style="position:absolute;left:827px;top:128px;width:235.5px;height:15.5px;box-sizing:border-box;background:#fff;border:1px solid #d8d8d8;border-radius:2.5px;box-shadow:inset 0 1px 1px rgba(0,0,0,.05);"></div>
<div style="position:absolute;left:829.6px;top:128px;height:15.5px;line-height:15.5px;font-size:8.6px;color:#aaa;font-weight:normal;white-space:nowrap;letter-spacing:0px;">如:${# == '1' ? 'a.jsp' : 'b.jsp'}</div>
<div style="position:absolute;left:828px;top:149.5px;height:15px;line-height:15px;font-size:9.25px;color:#222;font-weight:bold;white-space:nowrap;">目标窗口<span style="margin-left:1.3px">:</span></div>
<div style="position:absolute;left:874.5px;top:150px;width:104px;height:14.5px;box-sizing:border-box;background:#fff;border:1px solid #d8d8d8;border-radius:2.5px;box-shadow:inset 0 1px 1px rgba(0,0,0,.05);"></div>
<div style="position:absolute;left:969.5px;top:155.45px;width:0;height:0;border-left:2.4px solid transparent;border-right:2.4px solid transparent;border-top:4px solid #222"></div>
<div style="position:absolute;left:985.5px;top:150px;width:66px;height:15.5px;box-sizing:border-box;background:#337ab7;border:1px solid #2e6da4;border-radius:2.5px;"></div>
<div style="position:absolute;left:985.5px;top:150px;width:66px;text-align:center;height:15.5px;line-height:15.5px;font-size:8.8px;color:#fff;font-weight:normal;white-space:nowrap;">URL参数配置</div>
<div style="position:absolute;left:821.5px;top:181px;height:15px;line-height:15px;font-size:9.25px;color:#222;font-weight:bold;white-space:nowrap;">单元格类型<span style="margin-left:1.3px">:</span></div>
<div style="position:absolute;left:876.5px;top:181px;width:183px;height:15.5px;box-sizing:border-box;background:#fff;border:1px solid #d8d8d8;border-radius:2.5px;box-shadow:inset 0 1px 1px rgba(0,0,0,.05);"></div>
<div style="position:absolute;left:881.5px;top:181px;height:15.5px;line-height:15.5px;font-size:8.6px;color:#333;font-weight:normal;white-space:nowrap;">数据集</div>
<div style="position:absolute;left:1050.5px;top:186.95px;width:0;height:0;border-left:2.4px solid transparent;border-right:2.4px solid transparent;border-top:4px solid #222"></div>
<div style="position:absolute;left:823px;top:230.5px;width:244px;height:1px;box-sizing:border-box;background:#ddd;"></div>
<div style="position:absolute;left:823px;top:205.5px;width:67.5px;height:26px;box-sizing:border-box;background:#fff;border:1px solid #ddd;border-bottom:none;border-radius:3px 3px 0 0;"></div>
<div style="position:absolute;left:823px;top:206px;width:67.5px;text-align:center;height:25px;line-height:25px;font-size:9px;color:#555;font-weight:normal;white-space:nowrap;">数据集配置</div>
<div style="position:absolute;left:895px;top:206px;width:51px;text-align:center;height:25px;line-height:25px;font-size:9px;color:#337ab7;font-weight:normal;white-space:nowrap;">过滤条件</div>
<div style="position:absolute;left:953.5px;top:206px;width:51px;text-align:center;height:25px;line-height:25px;font-size:9px;color:#337ab7;font-weight:normal;white-space:nowrap;">数据映射</div>
<div style="position:absolute;left:824.3px;top:239px;height:15px;line-height:15px;font-size:9.25px;color:#222;font-weight:bold;white-space:nowrap;">数据集<span style="margin-left:1.3px">:</span></div>
<div style="position:absolute;left:860px;top:239.5px;width:199.5px;height:14.5px;box-sizing:border-box;background:#fff;border:1px solid #d8d8d8;border-radius:2.5px;box-shadow:inset 0 1px 1px rgba(0,0,0,.05);"></div>
<div style="position:absolute;left:865px;top:239.5px;height:14.5px;line-height:14.5px;font-size:8.6px;color:#333;font-weight:normal;white-space:nowrap;">流程信息</div>
<div style="position:absolute;left:1050.5px;top:244.95px;width:0;height:0;border-left:2.4px solid transparent;border-right:2.4px solid transparent;border-top:4px solid #222"></div>
<div style="position:absolute;left:829.5px;top:260.5px;height:15px;line-height:15px;font-size:9.25px;color:#222;font-weight:bold;white-space:nowrap;">属性<span style="margin-left:1.3px">:</span></div>
<div style="position:absolute;left:857.5px;top:260.5px;width:202px;height:15px;box-sizing:border-box;background:#fff;border:1px solid #d8d8d8;border-radius:2.5px;box-shadow:inset 0 1px 1px rgba(0,0,0,.05);"></div>
<div style="position:absolute;left:862.5px;top:260.5px;height:15px;line-height:15px;font-size:7.6px;color:#333;font-weight:normal;white-space:nowrap;">id</div>
<div style="position:absolute;left:1050.5px;top:266.2px;width:0;height:0;border-left:2.4px solid transparent;border-right:2.4px solid transparent;border-top:4px solid #222"></div>
<div style="position:absolute;left:824.2px;top:282px;height:15px;line-height:15px;font-size:9.25px;color:#222;font-weight:bold;white-space:nowrap;">聚合方式<span style="margin-left:1.3px">:</span></div>
<div style="position:absolute;left:870.5px;top:282.5px;width:93px;height:14.5px;box-sizing:border-box;background:#fff;border:1px solid #d8d8d8;border-radius:2.5px;box-shadow:inset 0 1px 1px rgba(0,0,0,.05);"></div>
<div style="position:absolute;left:875.5px;top:282.5px;height:14.5px;line-height:14.5px;font-size:8.6px;color:#333;font-weight:normal;white-space:nowrap;">统计数量</div>
<div style="position:absolute;left:954.5px;top:287.95px;width:0;height:0;border-left:2.4px solid transparent;border-right:2.4px solid transparent;border-top:4px solid #222"></div>
<div style="position:absolute;left:829.5px;top:306.5px;height:15px;line-height:15px;font-size:9.25px;color:#222;font-weight:bold;white-space:nowrap;">行高<span style="margin-left:1.3px">:</span></div>
<div style="position:absolute;left:856.5px;top:306.5px;width:206px;height:15px;box-sizing:border-box;background:#fff;border:1px solid #d8d8d8;border-radius:2.5px;box-shadow:inset 0 1px 1px rgba(0,0,0,.05);"></div>
<div style="position:absolute;left:859.1px;top:306.5px;height:15px;line-height:15px;font-size:8.6px;color:#aaa;font-weight:normal;white-space:nowrap;letter-spacing:0.1px;">请输入一个数字,为空表示采用默认行高</div>
<div style="position:absolute;left:824px;top:326px;height:15px;line-height:15px;font-size:9.25px;color:#222;font-weight:bold;white-space:nowrap;">换行计算<span style="margin-left:1.3px">:</span></div>
<svg style="position:absolute;left:871px;top:329.7px" width="8" height="8" viewBox="0 0 8 8"><circle cx="4" cy="4" r="3.15" fill="#ececec" stroke="#b0b0b0" stroke-width="0.7"/></svg>
<div style="position:absolute;left:880px;top:326px;height:15px;line-height:15px;font-size:8.7px;color:#333;font-weight:normal;white-space:nowrap;">打开</div>
<svg style="position:absolute;left:905px;top:329.7px" width="8" height="8" viewBox="0 0 8 8"><circle cx="4" cy="4" r="3.15" fill="#ececec" stroke="#b0b0b0" stroke-width="0.7"/><circle cx="4" cy="4" r="1.65" fill="#444"/></svg>
<div style="position:absolute;left:914px;top:326px;height:15px;line-height:15px;font-size:8.7px;color:#333;font-weight:normal;white-space:nowrap;">关闭</div>
<div style="position:absolute;left:824px;top:350.5px;height:15px;line-height:15px;font-size:9.25px;color:#222;font-weight:bold;white-space:nowrap;">格式化<span style="margin-left:1.3px">:</span></div>
<div style="position:absolute;left:860.5px;top:350.5px;width:197px;height:15.5px;box-sizing:border-box;background:#fff;border:1px solid #d8d8d8;border-radius:2.5px;box-shadow:inset 0 1px 1px rgba(0,0,0,.05);"></div>
<div style="position:absolute;left:863.1px;top:350.5px;height:15.5px;line-height:15.5px;font-size:8.6px;color:#aaa;font-weight:normal;white-space:nowrap;letter-spacing:0.1px;">对日期或数字格式化，如#.##</div>
<div style="position:absolute;left:824px;top:374px;height:15px;line-height:15px;font-size:9.25px;color:#222;font-weight:bold;white-space:nowrap;">补充空白行<span style="margin-left:1.3px">:</span></div>
<svg style="position:absolute;left:880.5px;top:377.7px" width="8" height="8" viewBox="0 0 8 8"><circle cx="4" cy="4" r="3.15" fill="#ececec" stroke="#b0b0b0" stroke-width="0.7"/></svg>
<div style="position:absolute;left:889.5px;top:374px;height:15px;line-height:15px;font-size:8.7px;color:#333;font-weight:normal;white-space:nowrap;">打开</div>
<svg style="position:absolute;left:914.5px;top:377.7px" width="8" height="8" viewBox="0 0 8 8"><circle cx="4" cy="4" r="3.15" fill="#ececec" stroke="#b0b0b0" stroke-width="0.7"/><circle cx="4" cy="4" r="1.65" fill="#444"/></svg>
<div style="position:absolute;left:923.5px;top:374px;height:15px;line-height:15px;font-size:8.7px;color:#333;font-weight:normal;white-space:nowrap;">关闭</div>
<div style="position:absolute;left:824px;top:397.4px;height:15px;line-height:15px;font-size:9.25px;color:#222;font-weight:bold;white-space:nowrap;">条件属性<span style="margin-left:1.3px">:</span></div>
<div style="position:absolute;left:870.5px;top:398px;width:52.5px;height:15.5px;box-sizing:border-box;background:#fff;border:1px solid #d4d4d4;border-radius:2.5px;"></div>
<svg style="position:absolute;left:874.5px;top:402px" width="8" height="8" viewBox="0 0 8 8"><path d="M0.3 0.5h7.4L4.9 3.7v3.6L3.1 6.2V3.7z" fill="#222"/></svg>
<div style="position:absolute;left:884px;top:398px;height:15.5px;line-height:15.5px;font-size:8.8px;color:#222;font-weight:normal;white-space:nowrap;">配置条件</div>
</body></html>
